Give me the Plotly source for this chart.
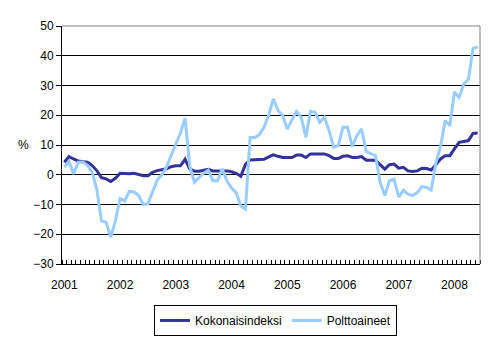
import plotly.graph_objects as go

years = ["2001", "2002", "2003", "2004", "2005", "2006", "2007", "2008"]
months = [f"{y}-{m:02d}" for y in range(2001, 2009) for m in range(1, 13)][:90]

kokonaisindeksi = [
    4.2, 6.1, 5.3, 4.6, 4.4, 4.2, 3.1, 1.4, -1.0, -1.4, -2.3, -1.2,
    0.5, 0.3, 0.3, 0.5, 0.2, -0.3, -0.3, 0.8, 1.4, 1.6, 2.0, 2.7,
    3.0, 3.0, 5.2, 2.0, 1.2, 1.2, 1.5, 1.8, 1.3, 1.3, 1.5, 1.3,
    1.0, 0.5, -0.5, 3.5, 5.0, 5.0, 5.0, 5.2, 6.0, 6.7, 6.2, 5.8,
    5.8, 5.8, 6.6, 6.6, 5.8, 7.0, 7.0, 7.0, 7.0, 6.4, 5.5, 5.5,
    6.2, 6.4, 5.8, 5.8, 6.1, 4.9, 4.9, 4.9, 3.4, 1.9, 3.4, 3.6,
    2.2, 2.5, 1.3, 1.1, 1.3, 2.2, 2.1, 1.6, 3.4, 5.3, 6.4, 6.4,
    8.7, 10.9, 11.2, 11.5, 13.9, 14.0,
]

polttoaineet = [
    2.6, 4.4, 0.3, 4.2, 4.3, 3.2, 0.8, -5.0, -15.5, -16.0, -21.0, -15.5,
    -8.0, -8.8, -5.5, -5.8, -7.0, -10.0, -9.7, -5.5, -1.8, 0.0, 2.5, 6.5,
    10.5, 14.0, 19.0, 3.0, -2.5, -1.0, 0.5, 1.5, -2.0, -2.0, 2.0, -2.0,
    -4.5, -6.0, -10.5, -11.5, 12.5, 12.5, 13.5, 16.0, 20.0, 25.5, 21.6, 19.9,
    15.4, 18.4, 21.3, 19.3, 12.6, 21.3, 21.0, 17.6, 19.3, 14.8, 9.2, 9.8,
    16.0, 16.0, 9.4, 13.1, 15.4, 7.8, 7.2, 6.4, -2.5, -7.0, -2.0, -1.5,
    -7.5, -5.2, -6.5, -7.0, -6.0, -4.0, -4.3, -5.2, 4.0, 9.5, 18.2, 16.5,
    27.8, 26.0, 30.5, 32.0, 42.5, 43.0,
]

x_idx = list(range(len(months)))
year_pos = [12 * k for k in range(len(years))]

fig = go.Figure()
fig.add_trace(go.Scatter(x=x_idx, y=kokonaisindeksi, mode="lines", name="Kokonaisindeksi",
                         line=dict(color="#333399", width=3)))
fig.add_trace(go.Scatter(x=x_idx, y=polttoaineet, mode="lines", name="Polttoaineet",
                         line=dict(color="#99CCFF", width=3)))

font = dict(family="Liberation Sans, Arial, sans-serif", size=12, color="black")

fig.update_layout(
    width=495, height=338,
    margin=dict(l=62, r=15, t=26, b=74, autoexpand=False),
    paper_bgcolor="white", plot_bgcolor="white",
    font=font,
    showlegend=True,
    legend=dict(orientation="h", x=0.22, y=-0.172, xanchor="left", yanchor="top",
                bordercolor="black", borderwidth=1, font=font,
                itemwidth=30, tracegroupgap=0),
    xaxis=dict(range=[-0.5, len(months) - 0.5], tickmode="array",
               tickvals=year_pos, ticktext=years, ticks="",
               showgrid=False, zeroline=False, showline=True, linecolor="black",
               linewidth=1, ticklabelstandoff=10, automargin=False,
               minor=dict(tickmode="linear", tick0=-0.5, dtick=1, ticks="inside",
                          ticklen=4, tickcolor="black", showgrid=False)),
    yaxis=dict(range=[-30, 50], tickmode="linear", tick0=-30, dtick=10,
               showgrid=True, gridcolor="black", gridwidth=1, zeroline=False,
               showline=True, linecolor="black", linewidth=1, automargin=False,
               ticks="outside", ticklen=5, tickcolor="black"),
    shapes=[
        dict(type="line", xref="paper", yref="paper", x0=0, x1=1, y0=1, y1=1,
             line=dict(color="#808080", width=1)),
        dict(type="line", xref="paper", yref="paper", x0=1, x1=1, y0=0, y1=1,
             line=dict(color="#808080", width=1)),
    ],
    annotations=[
        dict(text="%", xref="paper", yref="y", x=-0.093, y=10, showarrow=False,
             font=font, xanchor="center", yanchor="middle"),
    ],
)

fig.write_html("out.html")
